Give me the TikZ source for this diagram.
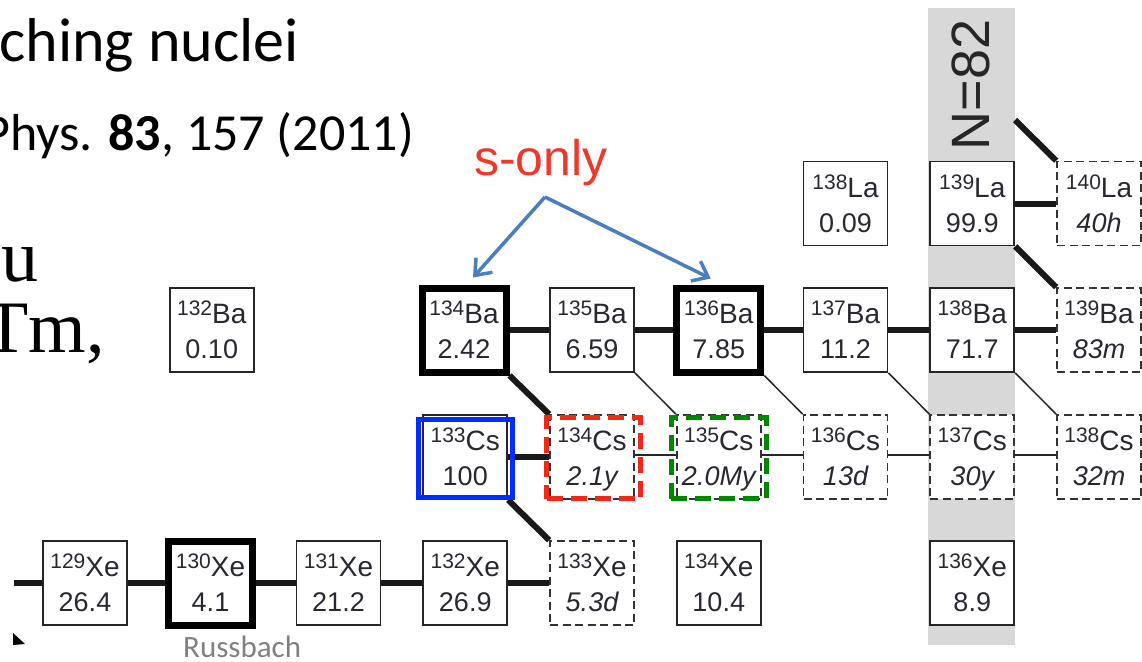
\documentclass[tikz,border=0pt]{standalone}
\usepackage{fontspec}
\newfontfamily\sansA{Liberation Sans}
\newfontfamily\calfont{Carlito}
\newfontfamily\serifA{Liberation Serif}
\usetikzlibrary{arrows.meta}
\pgfdeclarelayer{bandlayer}
\pgfdeclarelayer{linelayer}
\pgfsetlayers{bandlayer,linelayer,main}
\definecolor{bandgray}{RGB}{216,216,216}
\definecolor{arrowblue}{RGB}{74,126,193}
\definecolor{sred}{RGB}{240,55,40}
\definecolor{hiblue}{RGB}{0,45,255}
\definecolor{hired}{RGB}{240,40,20}
\definecolor{higreen}{RGB}{0,135,0}
\definecolor{txtc}{RGB}{40,40,48}
\newcommand\nuc[6]{%
  \node[#1] (#2) at (#3) {};
  \node[symtxt] (#2s) at ([yshift=6.5pt]#2.center) {{\fontsize{21}{21}\selectfont\raisebox{8pt}{#4}}#5};
  \node[numtxt] (#2n) at ([yshift=-28.5pt]#2.center) {#6};
}
\begin{document}
\begin{tikzpicture}[x=1pt,y=-1pt,
  nbox/.style={rectangle, fill=white, inner sep=0pt, minimum width=84pt, minimum height=84pt},
  stab/.style={nbox, draw=black!85, line width=1.8pt},
  sonly/.style={nbox, draw=black, line width=7pt},
  unst/.style={nbox, draw=black!80, line width=1.6pt, dash pattern=on 8pt off 4.5pt},
  symtxt/.style={anchor=base, inner sep=0pt, text=txtc, font=\sansA\fontsize{28}{28}\selectfont},
  numtxt/.style={anchor=base, inner sep=0pt, text=txtc, font=\sansA\fontsize{27}{27}\selectfont},
  thickc/.style={line width=6pt, draw=black!90},
  thinc/.style={line width=1.5pt, draw=black!85},
  hilite/.style={rectangle, inner sep=0pt, fill=none, line width=5pt},
  sarrow/.style={draw=arrowblue, line width=3.5pt, -{Straight Barb[length=14pt,width=22pt]}}
]
\useasboundingbox (0,0) rectangle (1142,661);
\clip (0,0) rectangle (1142,661);

\begin{pgfonlayer}{bandlayer}
  \fill[bandgray] (928,8) rectangle (1015,645);
\end{pgfonlayer}

% nuclides
\nuc{stab}{La138}{845.5,203.5}{138}{La}{0.09}
\nuc{stab}{La139}{972.25,203.5}{139}{La}{99.9}
\nuc{unst}{La140}{1099,203.5}{140}{La}{\itshape 40h}

\nuc{stab}{Ba132}{211.75,330}{132}{Ba}{0.10}
\nuc{sonly}{Ba134}{464,330}{134}{Ba}{2.42}
\nuc{stab}{Ba135}{592,330}{135}{Ba}{6.59}
\nuc{sonly}{Ba136}{718.75,330}{136}{Ba}{7.85}
\nuc{stab}{Ba137}{845.5,330}{137}{Ba}{11.2}
\nuc{stab}{Ba138}{972.25,330}{138}{Ba}{71.7}
\nuc{unst}{Ba139}{1099,330}{139}{Ba}{\itshape 83m}

\nuc{stab}{Cs133}{465.25,457}{133}{Cs}{100}
\nuc{unst}{Cs134}{592,457}{134}{Cs}{\itshape 2.1y}
\nuc{unst}{Cs135}{718.75,457}{135}{Cs}{\itshape 2.0My}
\nuc{unst}{Cs136}{845.5,457}{136}{Cs}{\itshape 13d}
\nuc{unst}{Cs137}{972.25,457}{137}{Cs}{\itshape 30y}
\nuc{unst}{Cs138}{1099,457}{138}{Cs}{\itshape 32m}

\nuc{stab}{Xe129}{85,583}{129}{Xe}{26.4}
\nuc{sonly}{Xe130}{210.5,583}{130}{Xe}{4.1}
\nuc{stab}{Xe131}{338.5,583}{131}{Xe}{21.2}
\nuc{stab}{Xe132}{465.25,583}{132}{Xe}{26.9}
\nuc{unst}{Xe133}{592,583}{133}{Xe}{\itshape 5.3d}
\nuc{stab}{Xe134}{718.75,583}{134}{Xe}{10.4}
\nuc{stab}{Xe136}{972.25,583}{136}{Xe}{8.9}

% highlights
\node[hilite, draw=hiblue, minimum width=94pt, minimum height=78pt] (hlCs133) at ([yshift=-1.5pt]Cs133.center) {};
\node[hilite, draw=hired, minimum width=94pt, minimum height=81pt, dash pattern=on 16pt off 8pt] (hlCs134) at ([xshift=1.5pt,yshift=-1pt]Cs134.center) {};
\node[hilite, draw=higreen, minimum width=95pt, minimum height=81pt, dash pattern=on 16pt off 8pt] (hlCs135) at ([yshift=-1pt]Cs135.center) {};

% free ends
\coordinate (xeleft) at (14,583);
\coordinate (bandedge) at (1015,120);
\coordinate (sapex) at (545,197);

% connectors
\begin{pgfonlayer}{linelayer}
  \draw[thickc] (xeleft) -- (Xe129.west);
  \draw[thickc] (Xe129) -- (Xe130);
  \draw[thickc] (Xe130) -- (Xe131);
  \draw[thickc] (Xe131) -- (Xe132);
  \draw[thickc] (Xe132) -- (Xe133);
  \draw[thickc] (Cs133) -- (Cs134);
  \draw[thickc] (Cs133.south east) -- (Xe133.north west);
  \draw[thickc] (Ba134.south east) -- (Cs134.north west);
  \draw[thickc] (Ba134) -- (Ba135);
  \draw[thickc] (Ba135) -- (Ba136);
  \draw[thickc] (Ba136) -- (Ba137);
  \draw[thickc] (Ba137) -- (Ba138);
  \draw[thickc] (Ba138) -- (Ba139);
  \draw[thickc] (La139) -- (La140);
  \draw[thickc] (La139.south east) -- (Ba139.north west);
  \draw[thickc] (bandedge) -- (La140.north west);
  \draw[thinc] ([yshift=2pt]Cs134.east) -- ([yshift=2pt]Cs135.west);
  \draw[thinc] ([yshift=2pt]Cs135.east) -- ([yshift=2pt]Cs136.west);
  \draw[thinc] ([yshift=2pt]Cs136.east) -- ([yshift=2pt]Cs137.west);
  \draw[thinc] ([yshift=2pt]Cs137.east) -- ([yshift=2pt]Cs138.west);
  \draw[thinc] (Ba135.south east) -- (Cs135.north west);
  \draw[thinc] (Ba136.south east) -- (Cs136.north west);
  \draw[thinc] (Ba137.south east) -- (Cs137.north west);
  \draw[thinc] (Ba138.south east) -- (Cs138.north west);
\end{pgfonlayer}

% N=82
\node[rotate=90, inner sep=0pt, text=black!85, font=\sansA\fontsize{54}{54}\selectfont] (magic) at (971,85) {N=82};

% s-only label and arrows
\node[anchor=base, inner sep=0pt, text=sred, font=\sansA\fontsize{50}{50}\selectfont] (slabel) at (541,175) {s-only};
\draw[sarrow] (sapex) -- ([xshift=9pt,yshift=7pt]Ba134.north);
\draw[sarrow] (sapex) -- ([xshift=-8pt,yshift=6pt]Ba136.north);

% slide texts
\node[anchor=base east, inner sep=0pt, font=\calfont\fontsize{62}{62}\selectfont] (title) at (299,62) {ching nuclei};
\node[anchor=base east, inner sep=0pt, font=\calfont\fontsize{52}{52}\selectfont] (ref) at (414,150) {Phys. \textbf{83}, 157 (2011)};
\node[anchor=base east, inner sep=0pt, font=\serifA\fontsize{74}{74}\selectfont] (lineu) at (39,281) {u};
\node[anchor=base east, inner sep=0pt, font=\serifA\fontsize{74}{74}\selectfont] (linetm) at (105,352) {Tm,};
\node[anchor=base west, inner sep=0pt, text=black!50, font=\calfont\fontsize{31}{31}\selectfont] (credit) at (183,657) {Russbach};

% small cut-off arrow tip
\fill[black] (13,633) -- (25,644) -- (13,645) -- cycle;
\end{tikzpicture}
\end{document}
